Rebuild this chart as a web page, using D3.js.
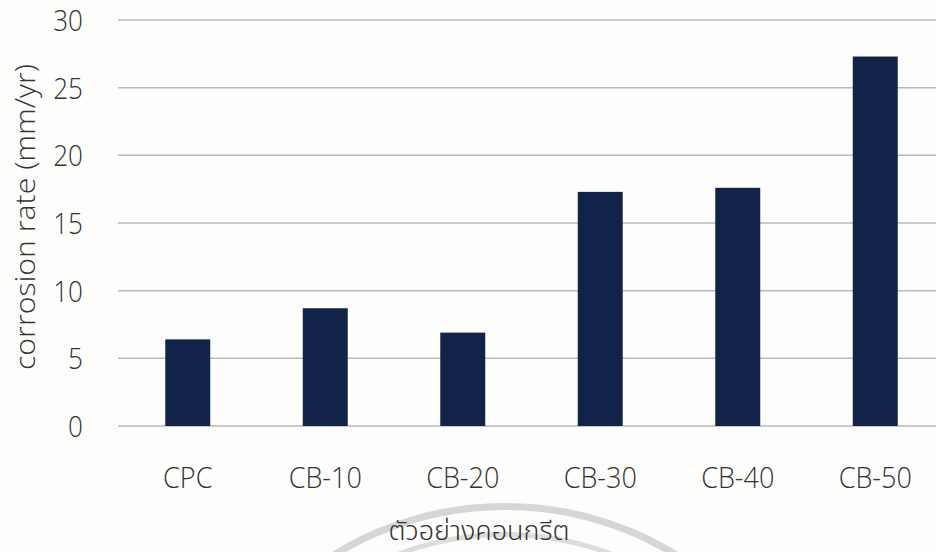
<!DOCTYPE html>
<html>
<head>
<meta charset="utf-8">
<script src="https://cdn.jsdelivr.net/npm/d3@7"></script>
<style>
  html, body { margin: 0; padding: 0; background: #fdfdfc; }
  svg { display: block; }
</style>
</head>
<body>
<svg id="chart" width="936" height="552"></svg>
<script>
// Corrosion rate of each concrete sample
const categories = ["CPC", "CB-10", "CB-20", "CB-30", "CB-40", "CB-50"];
const corrosionRate = [6.4, 8.7, 6.9, 17.3, 17.6, 27.3];
const yTicks = [0, 5, 10, 15, 20, 25, 30];
const yTitle = "corrosion rate (mm/yr)";
const xTitle = "ตัวอย่างคอนกรีต";

const W = 936, H = 552;
const plot = { left: 119, right: 944, top: 20, bottom: 426 };
const barColor = "#112348";
const gridColor = "#b9b9b9";
const textColor = "#333333";
const uiFont = "'Open Sans', 'Noto Sans', sans-serif";
const squeeze = 0.9;

const svg = d3.select("#chart");

// faint seal stamped behind the lower part of the page
const seal = svg.append("g").attr("transform", "translate(505,833)");
const ring = d3.arc().startAngle(0).endAngle(2 * Math.PI);
seal.append("path")
  .attr("d", ring({ innerRadius: 323, outerRadius: 330 }))
  .attr("fill", "#d6d6d6");
seal.append("path")
  .attr("d", ring({ innerRadius: 296, outerRadius: 301 }))
  .attr("fill", "#dcdcdc");

const x = d3.scaleBand()
  .domain(categories)
  .range([plot.left, plot.right])
  .paddingInner(0.673)
  .paddingOuter(0.3365);

const y = d3.scaleLinear()
  .domain([0, 30])
  .range([plot.bottom, plot.top]);

// horizontal gridlines
svg.append("g")
  .selectAll("line")
  .data(yTicks)
  .join("line")
  .attr("x1", 118)
  .attr("x2", W)
  .attr("y1", d => y(d))
  .attr("y2", d => y(d))
  .attr("stroke", gridColor)
  .attr("stroke-width", 1.5);

// bars
svg.append("g")
  .selectAll("rect")
  .data(categories.map((c, i) => ({ c, v: corrosionRate[i] })))
  .join("rect")
  .attr("x", d => x(d.c))
  .attr("width", x.bandwidth())
  .attr("y", d => y(d.v))
  .attr("height", d => y(0) - y(d.v))
  .attr("fill", barColor);

// y axis labels
const yAxis = svg.append("g")
  .attr("transform", "translate(83,0)")
  .call(d3.axisLeft(y).tickValues(yTicks).tickSize(0).tickPadding(0));
yAxis.select(".domain").remove();
yAxis.selectAll("text")
  .attr("x", 0)
  .attr("dy", "0.36em")
  .attr("transform", `scale(${squeeze},1)`)
  .style("font-family", uiFont)
  .style("font-weight", 300)
  .style("font-size", "29px")
  .attr("fill", textColor);

// x axis labels
const xAxis = svg.append("g")
  .attr("transform", `translate(0,${plot.bottom})`)
  .call(d3.axisBottom(x).tickSize(0).tickPadding(0));
xAxis.select(".domain").remove();
xAxis.selectAll("text")
  .attr("x", 0)
  .attr("y", 62)
  .attr("dy", 0)
  .attr("transform", `scale(${squeeze},1)`)
  .style("font-family", uiFont)
  .style("font-weight", 300)
  .style("font-size", "30px")
  .attr("fill", textColor);

// axis titles
svg.append("text")
  .attr("transform", "translate(35,217) rotate(-90)")
  .attr("text-anchor", "middle")
  .attr("textLength", 306)
  .attr("lengthAdjust", "spacingAndGlyphs")
  .style("font-family", uiFont)
  .style("font-weight", 300)
  .style("font-size", "27px")
  .attr("fill", textColor)
  .text(yTitle);

svg.append("text")
  .attr("x", 479)
  .attr("y", 540)
  .attr("text-anchor", "middle")
  .style("font-family", "'Noto Sans Thai', 'Noto Sans', 'DejaVu Sans', sans-serif")
  .style("font-weight", 300)
  .style("font-size", "27px")
  .attr("fill", textColor)
  .text(xTitle);
</script>
</body>
</html>
